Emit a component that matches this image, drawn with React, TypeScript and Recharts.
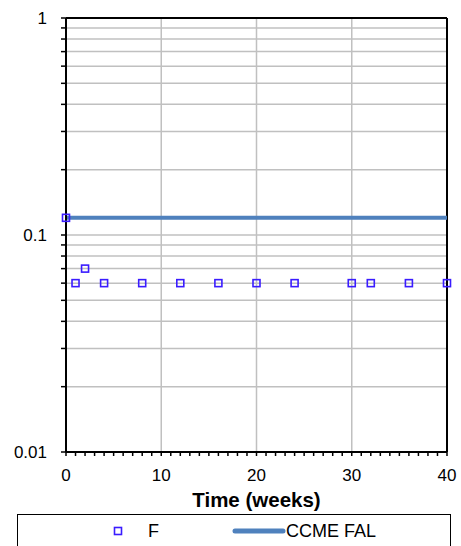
import {
  ComposedChart,
  Scatter,
  Line,
  XAxis,
  YAxis,
  CartesianGrid,
  ReferenceLine,
  Legend,
} from "recharts";

const weeks = [0, 1, 2, 4, 8, 12, 16, 20, 24, 30, 32, 36, 40];
const fValues = [0.12, 0.06, 0.07, 0.06, 0.06, 0.06, 0.06, 0.06, 0.06, 0.06, 0.06, 0.06, 0.06];
const falWeeks = [0, 40];
const falValues = [0.12, 0.12];

const xTicks = Array.from({ length: 41 }, (_, i) => i);
const xGrid = [10, 20, 30];
const yTicks = [
  0.01, 0.02, 0.03, 0.04, 0.05, 0.06, 0.07, 0.08, 0.09,
  0.1, 0.2, 0.3, 0.4, 0.5, 0.6, 0.7, 0.8, 0.9, 1,
];
const yLabels = [0.01, 0.1, 1];

const fData = weeks.map((w, i) => ({ x: w, y: fValues[i] }));
const falData = falWeeks.map((w, i) => ({ x: w, y: falValues[i] }));

const FONT = "'Liberation Sans', Arial, sans-serif";
const SQUARE = "#3a1cff";
const LINE = "#4f81bd";

const Square = (props: any) => {
  const { cx, cy } = props;
  if (cx == null || cy == null) return null;
  return (
    <rect x={cx - 3.5} y={cy - 3.5} width={7} height={7} fill="none" stroke={SQUARE} strokeWidth={1.6} />
  );
};

const LegendBox = () => (
  <div
    style={{
      boxSizing: "border-box",
      width: 434,
      height: 40,
      border: "1px solid #000",
      background: "#fff",
      overflow: "hidden",
    }}
  >
    <svg width={434} height={38} style={{ display: "block" }}>
      <rect x={96.5} y={12.5} width={7} height={7} fill="none" stroke={SQUARE} strokeWidth={1.6} />
      <text x={130} y={22} fontSize={18} fontFamily={FONT}>F</text>
      <line x1={217} y1={16} x2={265} y2={16} stroke={LINE} strokeWidth={5} strokeLinecap="round" />
      <text x={268} y={22} fontSize={18} fontFamily={FONT}>CCME FAL</text>
    </svg>
  </div>
);

export default function App() {
  return (
    <div style={{ position: "absolute", left: 0, top: 0, background: "#fff" }}>
      <ComposedChart
        width={461}
        height={546}
        margin={{ top: 18, right: 14, left: 0, bottom: 0 }}
      >
        <CartesianGrid vertical={false} stroke="#c0c0c0" strokeWidth={1.5} />
        {xGrid.map((g) => (
          <ReferenceLine key={g} x={g} stroke="#c0c0c0" strokeWidth={1.5} />
        ))}
        <XAxis
          type="number"
          dataKey="x"
          domain={[0, 40]}
          ticks={xTicks}
          interval={0}
          tickFormatter={(v: number) => (v % 10 === 0 ? String(v) : "")}
          tickSize={4}
          tickMargin={13}
          height={54}
          axisLine={{ stroke: "#000", strokeWidth: 2 }}
          tickLine={{ stroke: "#000", strokeWidth: 1.5 }}
          tick={{ fill: "#000", fontSize: 17, fontFamily: FONT }}
          label={{
            value: "Time (weeks)",
            position: "insideTop",
            offset: 40,
            style: { fill: "#000", fontSize: 20.5, fontWeight: "bold", fontFamily: FONT },
          }}
        />
        <YAxis
          type="number"
          dataKey="y"
          scale="log"
          domain={[0.01, 1]}
          allowDataOverflow
          ticks={yTicks}
          interval={0}
          tickFormatter={(v: number) => (yLabels.includes(v) ? String(v) : "")}
          width={66}
          tickSize={5}
          tickMargin={14}
          axisLine={{ stroke: "#000", strokeWidth: 2 }}
          tickLine={{ stroke: "#000", strokeWidth: 1.5 }}
          tick={{ fill: "#000", fontSize: 17, fontFamily: FONT }}
        />
        <ReferenceLine y={1} stroke="#000" strokeWidth={2} />
        <ReferenceLine x={40} stroke="#000" strokeWidth={2} />
        <Line
          data={falData}
          dataKey="y"
          type="linear"
          stroke={LINE}
          strokeWidth={4}
          dot={false}
          isAnimationActive={false}
          legendType="none"
        />
        <Scatter
          data={fData}
          dataKey="y"
          shape={<Square />}
          isAnimationActive={false}
        />
        <Legend
          content={() => <LegendBox />}
          wrapperStyle={{ position: "absolute", left: 17, top: 514, width: 434 }}
        />
      </ComposedChart>
    </div>
  );
}
